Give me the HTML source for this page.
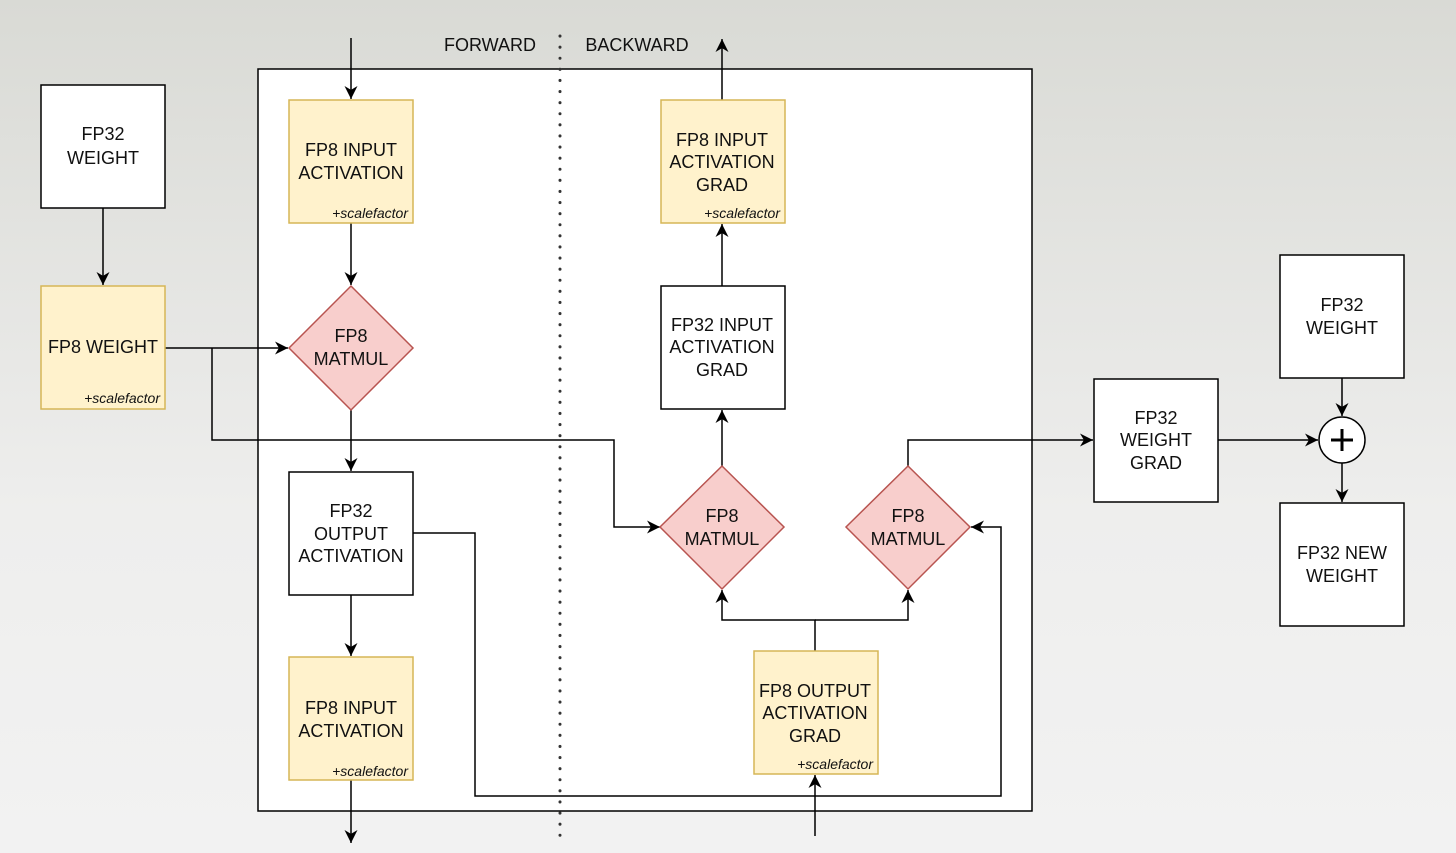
<!DOCTYPE html>
<html><head><meta charset="utf-8"><style>
html,body{margin:0;padding:0;width:1456px;height:853px;overflow:hidden;background:linear-gradient(#d9dad5,#eeeeed 60%,#f2f2f2);}
svg{display:block}
text{font-family:"Liberation Sans",Arial,sans-serif;fill:#111;}
</style></head><body>
<svg width="1456" height="853" viewBox="0 0 1456 853" xmlns="http://www.w3.org/2000/svg">
<defs><marker id="a" viewBox="0 0 10 10" refX="10" refY="5" markerWidth="13" markerHeight="13" markerUnits="userSpaceOnUse" orient="auto"><path d="M0,0 L10,5 L0,10 L3,5 z" fill="#000"/></marker></defs>
<rect x="258" y="69" width="774" height="742" fill="#fff" stroke="#000" stroke-width="1.5"/>
<line x1="560" y1="36" x2="560" y2="846" stroke="#333" stroke-width="3" stroke-dasharray="0.1 11" stroke-linecap="round"/>
<text x="490" y="51" font-size="18" text-anchor="middle">FORWARD</text>
<text x="637" y="51" font-size="18" text-anchor="middle">BACKWARD</text>
<g fill="none" stroke="#000" stroke-width="1.5">
<path d="M351,38V99" marker-end="url(#a)"/>
<path d="M351,223V285" marker-end="url(#a)"/>
<path d="M103,208V285" marker-end="url(#a)"/>
<path d="M165,348H288" marker-end="url(#a)"/>
<path d="M212,348V440H614V527H660" marker-end="url(#a)"/>
<path d="M351,410V471" marker-end="url(#a)"/>
<path d="M413,533H475V796H1001V527H971" marker-end="url(#a)"/>
<path d="M351,595V656" marker-end="url(#a)"/>
<path d="M351,780V843" marker-end="url(#a)"/>
<path d="M815,836V775" marker-end="url(#a)"/>
<path d="M815,651V620H722V590" marker-end="url(#a)"/>
<path d="M815,620H908V590" marker-end="url(#a)"/>
<path d="M722,466V410" marker-end="url(#a)"/>
<path d="M722,286V224" marker-end="url(#a)"/>
<path d="M722,100V39" marker-end="url(#a)"/>
<path d="M908,466V440H1093" marker-end="url(#a)"/>
<path d="M1218,440H1318" marker-end="url(#a)"/>
<path d="M1342,378V416" marker-end="url(#a)"/>
<path d="M1342,463V502" marker-end="url(#a)"/>
</g>
<g stroke="#000" stroke-width="1.5" fill="#fff">
<rect x="41" y="85" width="124" height="123"/>
<rect x="289" y="472" width="124" height="123"/>
<rect x="661" y="286" width="124" height="123"/>
<rect x="1094" y="379" width="124" height="123"/>
<rect x="1280" y="255" width="124" height="123"/>
<rect x="1280" y="503" width="124" height="123"/>
<circle cx="1342" cy="440" r="23"/>
</g>
<path d="M1331,440H1353M1342,429V451" stroke="#000" stroke-width="3"/>
<g stroke="#d6b656" stroke-width="1.5" fill="#fff2cc">
<rect x="41" y="286" width="124" height="123"/>
<rect x="289" y="100" width="124" height="123"/>
<rect x="289" y="657" width="124" height="123"/>
<rect x="661" y="100" width="124" height="123"/>
<rect x="754" y="651" width="124" height="123"/>
</g>
<g stroke="#b85450" stroke-width="1.5" fill="#f8cecc">
<path d="M351,286L413,348L351,410L289,348z"/>
<path d="M722,466L784,527L722,589L660,527z"/>
<path d="M908,466L970,527L908,589L846,527z"/>
</g>
<g font-size="18" text-anchor="middle">
<text x="103" y="140">FP32</text><text x="103" y="164">WEIGHT</text>
<text x="103" y="353">FP8 WEIGHT</text>
<text x="351" y="156">FP8 INPUT</text><text x="351" y="179">ACTIVATION</text>
<text x="351" y="342">FP8</text><text x="351" y="365">MATMUL</text>
<text x="351" y="517">FP32</text><text x="351" y="540">OUTPUT</text><text x="351" y="562">ACTIVATION</text>
<text x="351" y="714">FP8 INPUT</text><text x="351" y="737">ACTIVATION</text>
<text x="722" y="146">FP8 INPUT</text><text x="722" y="168">ACTIVATION</text><text x="722" y="191">GRAD</text>
<text x="722" y="331">FP32 INPUT</text><text x="722" y="353">ACTIVATION</text><text x="722" y="376">GRAD</text>
<text x="722" y="522">FP8</text><text x="722" y="545">MATMUL</text>
<text x="908" y="522">FP8</text><text x="908" y="545">MATMUL</text>
<text x="815" y="697">FP8 OUTPUT</text><text x="815" y="719">ACTIVATION</text><text x="815" y="742">GRAD</text>
<text x="1156" y="424">FP32</text><text x="1156" y="446">WEIGHT</text><text x="1156" y="469">GRAD</text>
<text x="1342" y="311">FP32</text><text x="1342" y="334">WEIGHT</text>
<text x="1342" y="559">FP32 NEW</text><text x="1342" y="582">WEIGHT</text>
</g>
<g font-size="14" font-style="italic" text-anchor="end">
<text x="160" y="403">+scalefactor</text>
<text x="408" y="218">+scalefactor</text>
<text x="408" y="776">+scalefactor</text>
<text x="780" y="218">+scalefactor</text>
<text x="873" y="769">+scalefactor</text>
</g>
</svg>
</body></html>
